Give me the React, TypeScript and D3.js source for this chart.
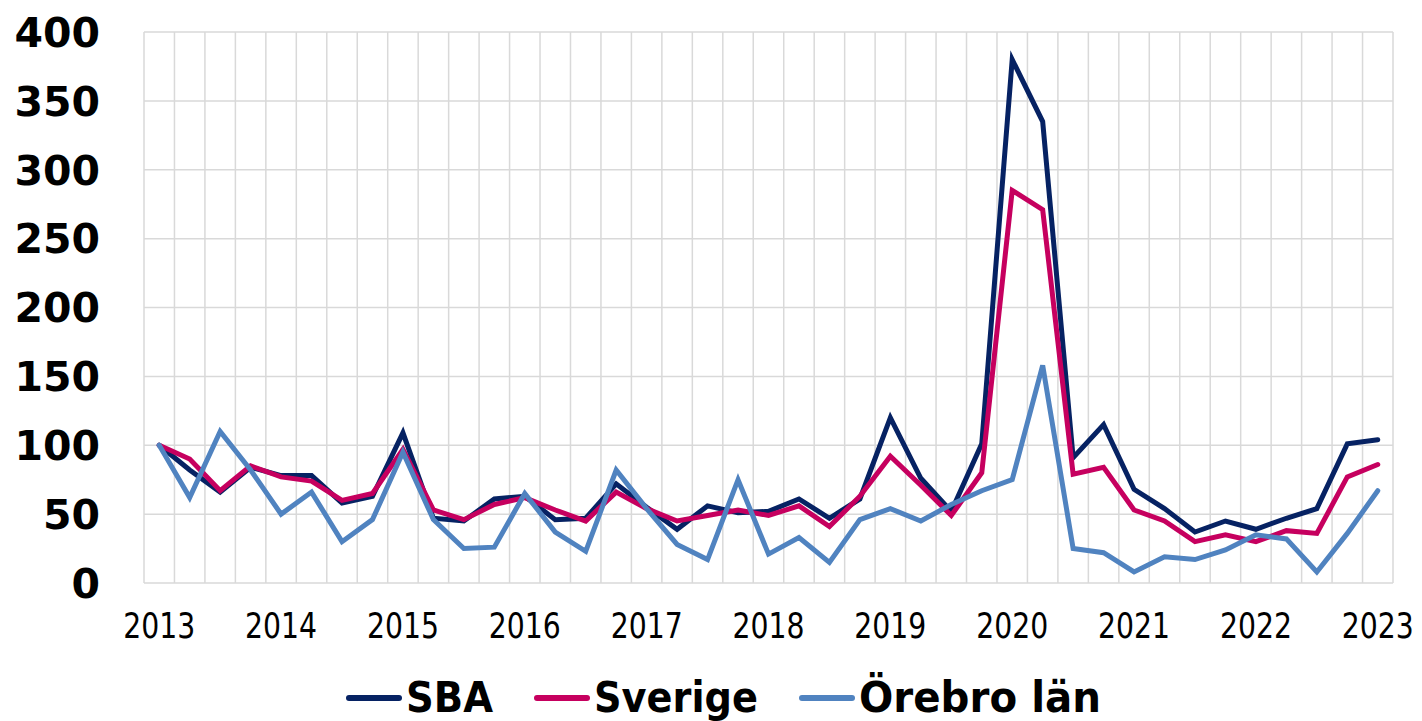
import React from "react";
import * as d3 from "d3";

const yearLabels = ["2013", "2014", "2015", "2016", "2017", "2018", "2019", "2020", "2021", "2022", "2023"];

// quarterly categories, 2013 K1 .. 2023 K1
const quarters: string[] = [];
yearLabels.forEach((y) => {
  ["K1", "K2", "K3", "K4"].forEach((q) => {
    if (y !== "2023" || q === "K1") quarters.push(`${y} ${q}`);
  });
});

const sba = [100, 82, 66, 84, 78, 78, 58, 63, 109, 47, 45, 61, 63, 46, 47, 72, 55, 39, 56, 51, 52, 61, 47, 61, 120, 76, 52, 101, 380, 335, 91, 115, 68, 54, 37, 45, 39, 47, 54, 101, 104];
const sverige = [100, 90, 67, 85, 77, 74, 60, 65, 97, 53, 46, 57, 62, 53, 45, 66, 54, 45, 49, 53, 49, 56, 41, 63, 92, 71, 49, 80, 285, 271, 79, 84, 53, 45, 30, 35, 30, 38, 36, 77, 86];
const orebro = [100, 62, 110, 82, 50, 66, 30, 46, 95, 46, 25, 26, 65, 37, 23, 82, 54, 28, 17, 75, 21, 33, 15, 46, 54, 45, 57, 67, 75, 158, 25, 22, 8, 19, 17, 24, 35, 32, 8, 36, 67];

const yTicks = [0, 50, 100, 150, 200, 250, 300, 350, 400];

const series = [
  { name: "SBA", values: sba, color: "#062263", legendWidth: 87 },
  { name: "Sverige", values: sverige, color: "#c6005f", legendWidth: 164 },
  { name: "Örebro län", values: orebro, color: "#5083c0", legendWidth: 242 },
];

const width = 1422;
const height = 721;
const left = 144;
const right = 1393;
const top = 32;
const bottom = 583;

const App = () => {
  const x = d3.scaleBand().domain(quarters).range([left, right]).padding(0);
  const y = d3.scaleLinear().domain([0, 400]).range([bottom, top]);
  const cx = (i: number) => (x(quarters[i]) as number) + x.bandwidth() / 2;

  const line = d3
    .line<number>()
    .x((_, i) => cx(i))
    .y((d) => y(d));

  const gridX = quarters.map((q) => x(q) as number).concat([right]);

  // legend layout
  const swatch = 56;
  const gap = 4;
  const itemGap = 41;
  let lx = 346;
  const legendItems = series.map((s) => {
    const item = { ...s, x: lx };
    lx += swatch + gap + s.legendWidth + itemGap;
    return item;
  });

  return (
    <svg
      width={width}
      height={height}
      style={{ position: "absolute", left: 0, top: 0, background: "#fff" }}
    >
      <g stroke="#d9d9d9" strokeWidth={1.5}>
        {yTicks.map((t) => (
          <line key={t} x1={left} x2={right} y1={y(t)} y2={y(t)} />
        ))}
        {gridX.map((gx, i) => (
          <line key={i} x1={gx} x2={gx} y1={top} y2={bottom} />
        ))}
      </g>

      <g fontFamily="'DejaVu Sans', sans-serif" fontWeight="bold" fontSize={41} textAnchor="end">
        {yTicks.map((t) => (
          <text key={t} x={100} y={y(t)} dy="0.36em" fill="#000">
            {t}
          </text>
        ))}
      </g>

      <g fontFamily="'DejaVu Sans', sans-serif" fontSize={36} textAnchor="middle">
        {yearLabels.map((yl) => (
          <text
            key={yl}
            x={cx(quarters.indexOf(`${yl} K1`))}
            y={638}
            fill="#000"
            textLength={72}
            lengthAdjust="spacingAndGlyphs"
          >
            {yl}
          </text>
        ))}
      </g>

      <g fill="none" strokeWidth={5} strokeLinecap="round">
        {series.map((s) => (
          <path key={s.name} d={line(s.values) || ""} stroke={s.color} />
        ))}
      </g>

      <g>
        {legendItems.map((s) => (
          <g key={s.name}>
            <line
              x1={s.x + 3}
              x2={s.x + swatch - 3}
              y1={698}
              y2={698}
              stroke={s.color}
              strokeWidth={6}
              strokeLinecap="round"
            />
            <text
              x={s.x + swatch + gap}
              y={712}
              fontFamily="'DejaVu Sans', sans-serif"
              fontWeight="bold"
              fontSize={43}
              fill="#000"
              textLength={s.legendWidth}
              lengthAdjust="spacingAndGlyphs"
            >
              {s.name}
            </text>
          </g>
        ))}
      </g>
    </svg>
  );
};

export default App;
